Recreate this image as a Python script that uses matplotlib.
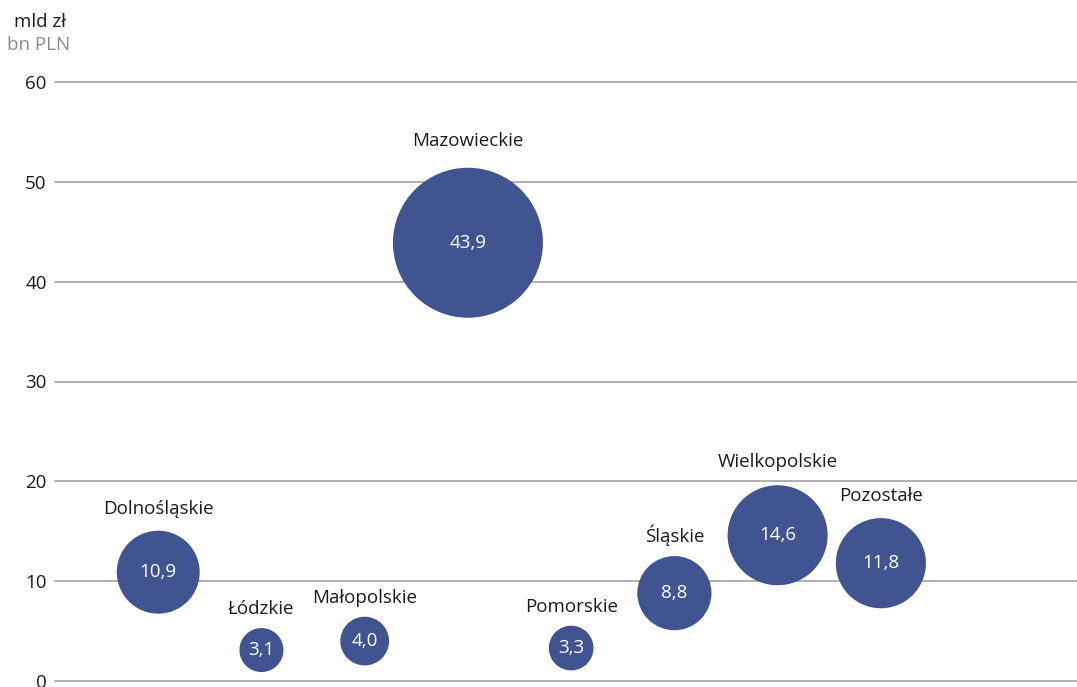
import matplotlib
matplotlib.use('Agg')
import matplotlib.pyplot as plt

plt.rcParams['font.family'] = ['Open Sans', 'DejaVu Sans']

# dane
regions = ['Dolnośląskie', 'Łódzkie', 'Małopolskie', 'Mazowieckie',
           'Pomorskie', 'Śląskie', 'Wielkopolskie', 'Pozostałe']
values = [10.9, 3.1, 4.0, 43.9, 3.3, 8.8, 14.6, 11.8]
# względna powierzchnia bąbli
bubble_size = [11.0, 3.1, 3.8, 36.0, 3.2, 8.8, 16.0, 13.0]
yticks = [0, 10, 20, 30, 40, 50, 60]

W, H = 1077, 687
fig = plt.figure(figsize=(W / 100, H / 100), dpi=100)
ax = fig.add_axes([55 / W, (H - 681) / H, 1 - 55 / W, (681 - 82) / H])

color = '#3f5491'
fs = 13.5
x = list(range(1, len(regions) + 1))
sizes = [324 * b for b in bubble_size]
ax.scatter(x, values, s=sizes, color=color, edgecolor='none', zorder=3, clip_on=False)

for xi, v, s, name in zip(x, values, sizes, regions):
    ax.text(xi, v, f'{v:.1f}'.replace('.', ','), color='white', fontsize=fs,
            ha='center', va='center', zorder=4)
    r_pt = s ** 0.5 / 2
    ax.annotate(name, (xi, v), xytext=(0, r_pt * 1.15 + 11), textcoords='offset points',
                ha='center', va='center', fontsize=fs, color='#1a1a1a', zorder=4)

ax.set_xlim(0, 9.9)
ax.set_ylim(0, 60)
ax.set_yticks(yticks)
ax.set_xticks([])
ax.grid(axis='y', color='#9a9a9a', linewidth=1.1, zorder=0)
ax.set_axisbelow(True)
for gl in ax.get_ygridlines():
    gl.set_clip_on(False)
for sp in ax.spines.values():
    sp.set_visible(False)
ax.tick_params(axis='y', length=0, pad=6, labelsize=fs, labelcolor='#1a1a1a')
for lab in ax.get_yticklabels():
    lab.set_clip_on(False)

fig.text(40 / W, 1 - 22 / H, 'mld zł', ha='center', va='center', fontsize=fs, color='#1a1a1a')
fig.text(39 / W, 1 - 45 / H, 'bn PLN', ha='center', va='center', fontsize=fs, color='#8a8a8a')

fig.savefig('out.png', dpi=100)
